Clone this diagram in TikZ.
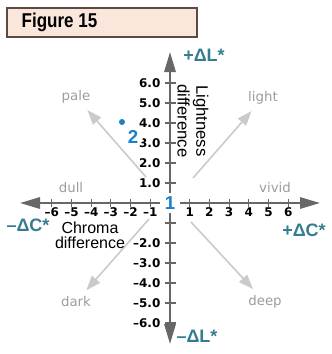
\documentclass[tikz,border=0pt]{standalone}
\usepackage{fontspec}
\setmainfont{Liberation Sans}
\newfontfamily\screenfont{DejaVu Sans}
\usetikzlibrary{arrows.meta}

\definecolor{axisgray}{HTML}{676767}
\definecolor{diaggray}{HTML}{CACACA}
\definecolor{moodgray}{HTML}{9C9C9C}
\definecolor{deltateal}{HTML}{357C8F}
\definecolor{markblue}{HTML}{1B80C8}
\definecolor{headfill}{HTML}{FBE6DB}
\definecolor{headline}{HTML}{5C4B42}

\begin{document}
\begin{tikzpicture}[x=0.75pt,y=-0.75pt,
axis/.style={draw=axisgray, line width=1.5pt,
	{Triangle[length=15pt,width=8.5pt]}-{Triangle[length=15pt,width=8.5pt]}},
tick/.style={draw=axisgray, line width=0.8pt},
diag/.style={draw=diaggray, line width=1.2pt, shorten >=5pt,
	-{Triangle[length=11pt,width=8pt]}},
mood/.style={text=moodgray, font=\screenfont\fontsize{10}{11}\selectfont, inner sep=1pt},
num/.style={font=\screenfont\bfseries\fontsize{9}{10}\selectfont, inner sep=1pt},
delta/.style={text=deltateal, font=\bfseries\fontsize{13.5}{14}\selectfont, inner sep=0pt},
marker/.style={circle, fill=white, text=markblue, minimum size=15pt, inner sep=0pt,
	font=\bfseries\fontsize{14}{15}\selectfont}]

\useasboundingbox (0,0) rectangle (332,354);

% title box
\draw[draw=headline, fill=headfill, line width=1pt] (7,8) rectangle (197,37);
\node[anchor=west, font=\bfseries\fontsize{15}{16}\selectfont] (figtitle) at (17,22.5)
	{\scalebox{0.85}[1]{Figure 15}};

% axes
\coordinate (cleft) at (20,203);
\coordinate (cright) at (320,203);
\coordinate (ltop) at (170,52);
\coordinate (lbottom) at (170,344);
\draw[axis] (cleft) -- (cright);
\draw[axis] (lbottom) -- (ltop);

\foreach \i in {-6,...,-1,1,2,...,6} {
	\draw[tick] (170+\i*19.7,199) -- (170+\i*19.7,207);
	\draw[tick] (165,203-\i*20) -- (176,203-\i*20);
}
\foreach \i in {1,...,6} {
	\node[num] (cpos\i) at (170+\i*19.7,212) {\i};
	\node[num] (cneg\i) at (170-\i*19.7,212) {–\i};
	\node[num, anchor=east] (lpos\i) at (162,203-\i*20) {\i.0};
}
\foreach \i in {2,...,6}
	\node[num, anchor=east] (lneg\i) at (162,203+\i*20) {–\i.0};

% tone directions
\node[mood] (pale) at (76,97) {pale};
\node[mood] (light) at (263,98) {light};
\node[mood] (dark) at (76,302) {dark};
\node[mood] (deep) at (265,302) {deep};
\node[mood] (dull) at (71,188) {dull};
\node[mood] (vivid) at (275,188) {vivid};

\coordinate (pale0) at (146,177);
\coordinate (light0) at (193,178);
\coordinate (dark0) at (149,219);
\coordinate (deep0) at (191,222);
\draw[diag] (pale0) -- (pale);
\draw[diag] (light0) -- (light);
\draw[diag] (dark0) -- (dark);
\draw[diag] (deep0) -- (deep);

% axis names
\node[delta] (dlplus) at (204,55) {+ΔL*};
\node[delta] (dlminus) at (197,336) {–ΔL*};
\node[delta] (dcminus) at (28,225) {–ΔC*};
\node[delta] (dcplus) at (304,230) {+ΔC*};
\node[align=center, font=\fontsize{12}{11.5}\selectfont, inner sep=0pt] (chroma) at (90,235)
	{Chroma\\difference};
\node[align=center, rotate=-90, font=\fontsize{12.5}{14}\selectfont, inner sep=0pt] (lightness)
	at (193,121) {Lightness\\difference};

% samples
\node[marker] (m1) at (170,203) {1};
\node[marker] (m2) at (133,137) {2};
\node[circle, fill=markblue, minimum size=4.5pt, inner sep=0pt] (dot2) at (122,122) {};
\end{tikzpicture}
\end{document}
